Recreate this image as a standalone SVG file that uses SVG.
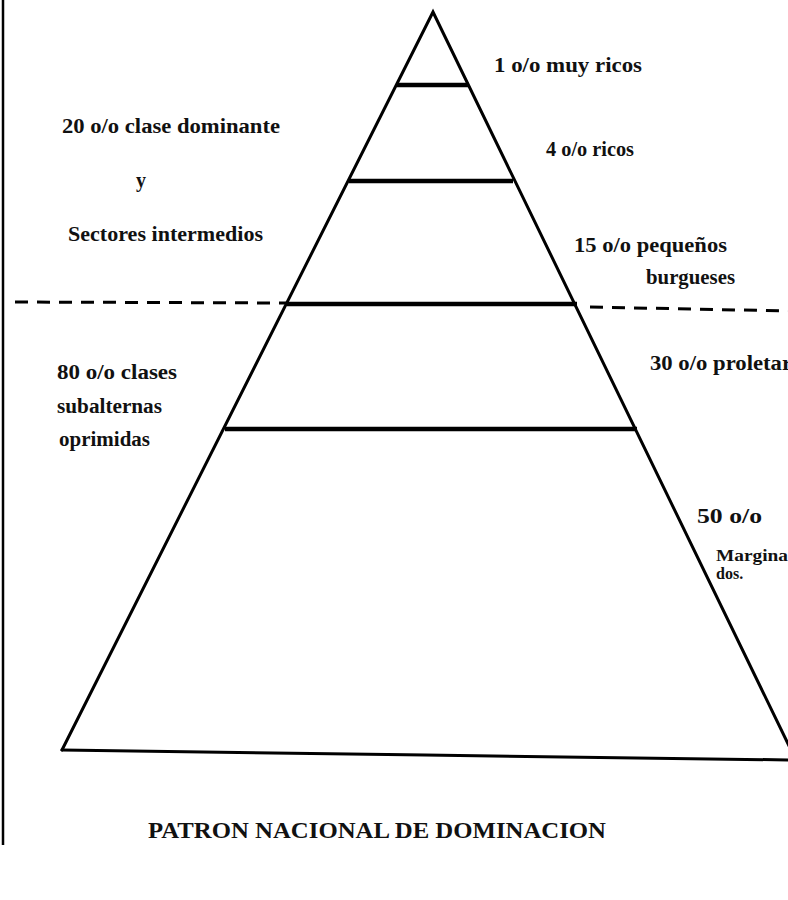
<svg xmlns="http://www.w3.org/2000/svg" width="788" height="900" viewBox="0 0 788 900">
<style>
.t{font-family:"Liberation Serif","Times New Roman",serif;font-weight:bold;font-size:20px;fill:#111}
.s{font-size:16px}
.title{font-size:23px}
.edge{stroke:#000;stroke-width:3;fill:none;stroke-linecap:round}
.bar{stroke:#000;stroke-width:4.5;fill:none}
.dash{stroke:#000;stroke-width:3;fill:none;stroke-dasharray:13 9}
</style>
<rect width="788" height="900" fill="#fff"/>
<g id="page-edge">
<line x1="3" y1="0" x2="3" y2="845" stroke="#000" stroke-width="2.5"/>
</g>
<g id="pyramid">
<polyline class="edge" points="62,750 433,12 792,752"/>
<polyline class="edge" points="62,750 425,755 790,760"/>
</g>
<g id="tiers">
<line class="bar" x1="397" y1="85" x2="469" y2="85"/>
<line class="bar" x1="349" y1="181" x2="513" y2="181"/>
<line class="bar" x1="287" y1="304" x2="577" y2="304"/>
<line class="bar" x1="225" y1="429" x2="637" y2="429"/>
</g>
<g id="connectors">
<line class="dash" x1="15" y1="302" x2="287" y2="303"/>
<line class="dash" x1="590" y1="307" x2="788" y2="311"/>
</g>
<g id="label-1">
<text class="t" x="494" y="72" textLength="148" lengthAdjust="spacingAndGlyphs">1 o/o muy ricos</text>
</g>
<g id="label-4">
<text class="t" x="546" y="156" textLength="88" lengthAdjust="spacingAndGlyphs">4 o/o ricos</text>
</g>
<g id="label-20">
<text class="t" x="62" y="133" textLength="218" lengthAdjust="spacingAndGlyphs">20 o/o clase dominante</text>
<text class="t" x="136" y="187">y</text>
<text class="t" x="68" y="241" textLength="195" lengthAdjust="spacingAndGlyphs">Sectores intermedios</text>
</g>
<g id="label-15">
<text class="t" x="574" y="252" textLength="153" lengthAdjust="spacingAndGlyphs">15 o/o pequeños</text>
<text class="t" x="646" y="284" textLength="89" lengthAdjust="spacingAndGlyphs">burgueses</text>
</g>
<g id="label-80">
<text class="t" x="57" y="379" textLength="120" lengthAdjust="spacingAndGlyphs">80 o/o clases</text>
<text class="t" x="57" y="413" textLength="105" lengthAdjust="spacingAndGlyphs">subalternas</text>
<text class="t" x="59" y="446" textLength="91" lengthAdjust="spacingAndGlyphs">oprimidas</text>
</g>
<g id="label-30">
<text class="t" x="650" y="370" textLength="142" lengthAdjust="spacingAndGlyphs">30 o/o proletar</text>
</g>
<g id="label-50">
<text class="t" x="697" y="523" textLength="65" lengthAdjust="spacingAndGlyphs">50 o/o</text>
<text class="t s" x="716" y="561" textLength="72" lengthAdjust="spacingAndGlyphs">Margina</text>
<text class="t s" x="716" y="579">dos.</text>
</g>
<g id="title">
<text class="t title" x="148" y="838" textLength="458" lengthAdjust="spacingAndGlyphs">PATRON NACIONAL DE DOMINACION</text>
</g>
</svg>
